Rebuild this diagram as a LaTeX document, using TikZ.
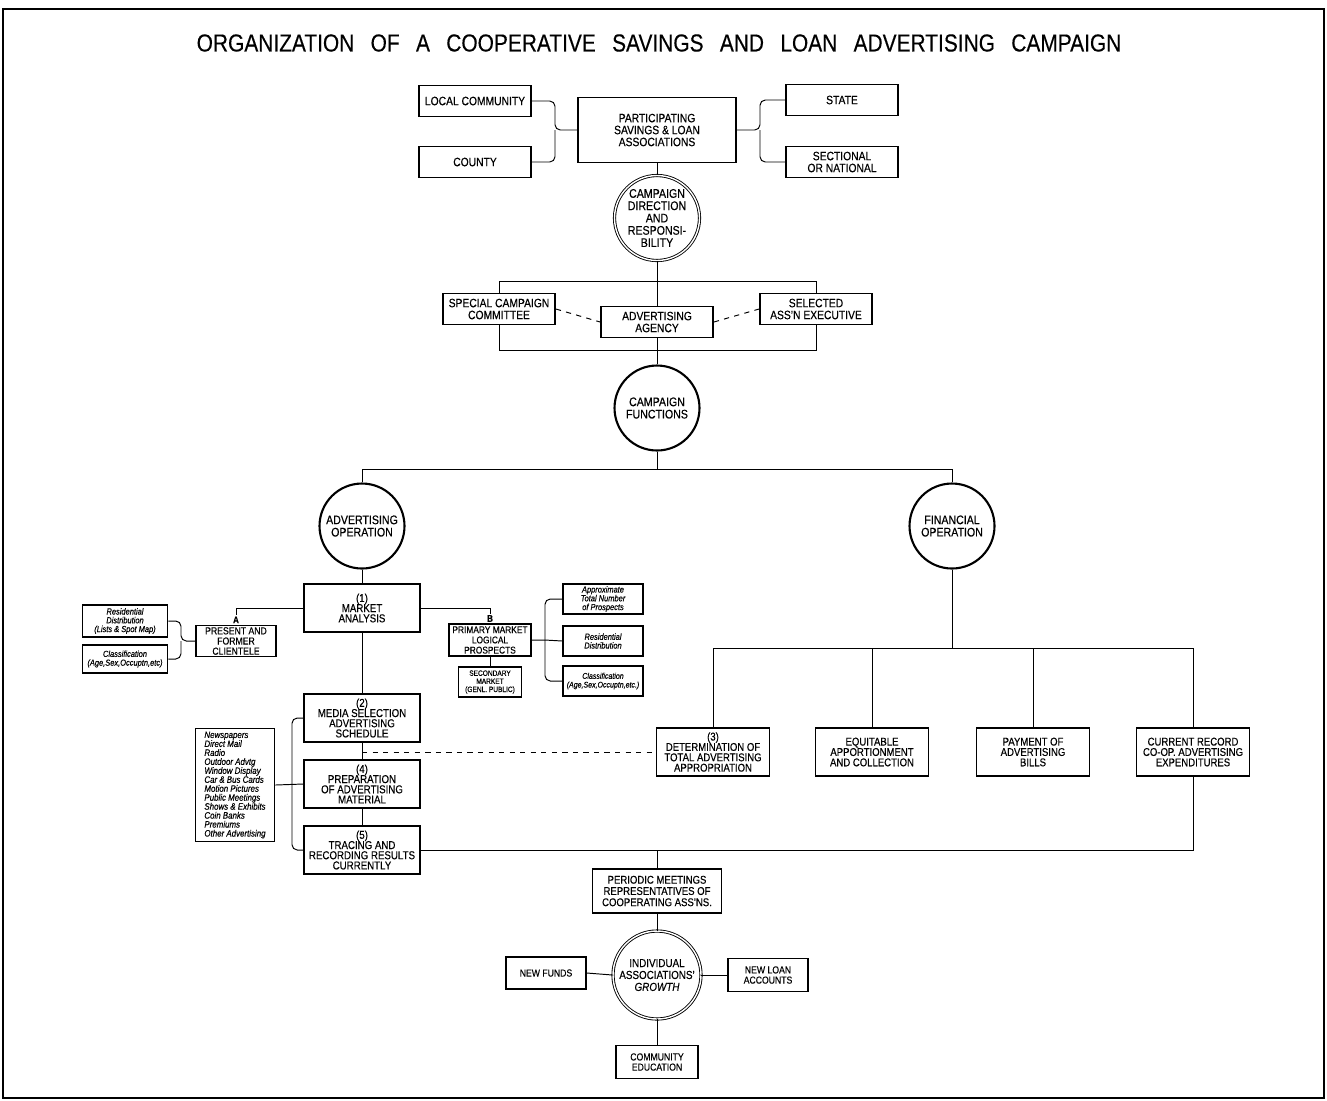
\documentclass[tikz,border=0pt]{standalone}
\usepackage{fontspec}
\setmainfont{Liberation Sans}[FakeStretch=0.85,FakeBold=0.3]
\usetikzlibrary{backgrounds,positioning}
\lineskiplimit=-\maxdimen

\begin{document}
\begin{tikzpicture}[x=0.02cm,y=-0.02cm,line width=0.55pt,
        box/.style={draw,line width=1pt,fill=white,align=center,inner sep=1pt,
            font=\fontsize{6.9}{6.8}\selectfont,minimum width=2.24cm,minimum height=0.62cm},
        bigbox/.style={box,minimum width=2.32cm,minimum height=0.96cm,font=\fontsize{6.5}{5.8}\selectfont},
        finbox/.style={box,minimum width=2.26cm,minimum height=0.96cm,font=\fontsize{6.4}{5.9}\selectfont},
        small/.style={box,minimum width=1.6cm,minimum height=0.6cm,font=\fontsize{5.8}{5.8}\selectfont},
        note/.style={box,minimum width=1.6cm,minimum height=0.6cm,font=\itshape\fontsize{5}{5}\selectfont},
        circ/.style={draw,circle,line width=1.2pt,fill=white,align=center,inner sep=-3pt,
            minimum size=1.7cm,font=\fontsize{7.1}{7}\selectfont},
        dcirc/.style={circ,double,double distance=0.8pt,line width=0.5pt},
        tag/.style={inner sep=0.5pt,font=\bfseries\fontsize{5.5}{5.5}\selectfont},
        brace/.style={rounded corners=3pt}]

    \useasboundingbox (0,0) rectangle (1327,1100);
    \draw[line width=0.8pt] (3,9) rectangle (1324,1098);

    \node[font=\fontsize{14}{16}\selectfont] (title) at (659,43)
        {\spaceskip=9.3pt\relax ORGANIZATION OF A COOPERATIVE SAVINGS AND LOAN ADVERTISING CAMPAIGN};

    % participants and direction
    \node[box] (lc) at (475,101) {LOCAL COMMUNITY};
    \node[box] (cty) at (475,162) {COUNTY};
    \node[box,minimum width=3.16cm,minimum height=1.3cm] (part) at (657,130)
        {PARTICIPATING\\SAVINGS \& LOAN\\ASSOCIATIONS};
    \node[box] (st) at (842,100) {STATE};
    \node[box] (sec) at (842,162) {SECTIONAL\\OR NATIONAL};
    \node[dcirc] (cd) at (657,218) {CAMPAIGN\\DIRECTION\\AND\\RESPONSI-\\BILITY};

    \node[box] (scc) at (499,309) {SPECIAL CAMPAIGN\\COMMITTEE};
    \node[box] (agy) at (657,322) {ADVERTISING\\AGENCY};
    \node[box] (sae) at (816,309) {SELECTED\\ASS'N EXECUTIVE};
    \coordinate (rt) at (657,281);
    \coordinate (rb) at (657,350);

    \node[circ] (cf) at (657,408) {CAMPAIGN\\FUNCTIONS};
    \coordinate (split) at (657,469);
    \node[circ] (ao) at (362,526) {ADVERTISING\\OPERATION};
    \node[circ] (fo) at (952,526) {FINANCIAL\\OPERATION};

    % advertising side
    \node[bigbox] (ma) at (362,608) {(1)\\MARKET\\ANALYSIS};
    \node[small] (pfc) at (236,641) {PRESENT AND\\FORMER\\CLIENTELE};
    \node[tag,above=0pt of pfc.north] (ta) {A};
    \node[note,minimum width=1.7cm,minimum height=0.64cm] (rd) at (125,621)
        {Residential\\Distribution\\(Lists \& Spot Map)};
    \node[note,minimum width=1.7cm,minimum height=0.56cm] (cl) at (125,659)
        {Classification\\(Age,Sex,Occuptn,etc)};
    \coordinate (jl) at (181,641);

    \node[small,minimum width=1.64cm,minimum height=0.64cm,font=\fontsize{5.6}{5.8}\selectfont] (pm) at (490,640)
        {PRIMARY MARKET\\LOGICAL\\PROSPECTS};
    \node[tag,above=0pt of pm.north] (tb) {B};
    \node[small,minimum width=1.26cm,font=\fontsize{4.4}{4.6}\selectfont] (sm) at (490,682)
        {SECONDARY\\MARKET\\(GENL. PUBLIC)};
    \node[note] (apx) at (603,599) {Approximate\\Total Number\\of Prospects};
    \node[note] (rd2) at (603,641) {Residential\\Distribution};
    \node[note,font=\itshape\fontsize{4.7}{5}\selectfont] (cl2) at (603,681) {Classification\\(Age,Sex,Occuptn,etc.)};
    \coordinate (jr) at (545,640);

    \node[bigbox] (med) at (362,718) {(2)\\MEDIA SELECTION\\ADVERTISING\\SCHEDULE};
    \node[bigbox] (prep) at (362,784) {(4)\\PREPARATION\\OF ADVERTISING\\MATERIAL};
    \node[bigbox] (trc) at (362,850) {(5)\\TRACING AND\\RECORDING RESULTS\\CURRENTLY};
    \node[note,minimum width=1.58cm,minimum height=2.26cm,align=left,
          font=\itshape\fontsize{5.3}{5.1}\selectfont] (lst) at (235,785)
        {Newspapers\\Direct Mail\\Radio\\Outdoor Advtg\\Window Display\\Car \& Bus Cards\\
         Motion Pictures\\Public Meetings\\Shows \& Exhibits\\Coin Banks\\Premiums\\Other Advertising};
    \coordinate (jm) at (292,784);

    % financial side
    \coordinate (fs) at (952,648);
    \node[finbox] (det) at (713,752) {(3)\\DETERMINATION OF\\TOTAL ADVERTISING\\APPROPRIATION};
    \node[finbox] (eq) at (872,752) {EQUITABLE\\APPORTIONMENT\\AND COLLECTION};
    \node[finbox] (pay) at (1033,752) {PAYMENT OF\\ADVERTISING\\BILLS};
    \node[finbox] (cur) at (1193,752) {CURRENT RECORD\\CO-OP. ADVERTISING\\EXPENDITURES};

    % results
    \node[box,minimum width=2.58cm,minimum height=0.88cm,font=\fontsize{6.4}{6.4}\selectfont] (per) at (657,891)
        {PERIODIC MEETINGS\\REPRESENTATIVES OF\\COOPERATING ASS'NS.};
    \node[dcirc,minimum size=1.76cm,font=\fontsize{6.6}{6.8}\selectfont] (iag) at (657,975)
        {INDIVIDUAL\\ASSOCIATIONS'\\\textit{GROWTH}};
    \node[small,minimum height=0.64cm] (nf) at (546,973) {NEW FUNDS};
    \node[small,minimum height=0.66cm] (nla) at (768,975) {NEW LOAN\\ACCOUNTS};
    \node[small,minimum width=1.64cm,minimum height=0.66cm] (ce) at (657,1062) {COMMUNITY\\EDUCATION};

    \begin{scope}[on background layer]
        \draw (scc.center |- rt) rectangle (sae.center |- rb);
    \end{scope}

    \coordinate (jp) at (555,130);
    \coordinate (js) at (760,130);
    \draw[brace] (lc.east) -| (jp) -- (part.west);
    \draw[brace] (cty.east) -| (jp);
    \draw[brace] (st.west) -| (js) -- (part.east);
    \draw[brace] (sec.west) -| (js);
    \draw (part.south) -- (cd.north);
    \draw (cd.south) -- (agy.north);
    \draw (agy.south) -- (cf.north);
    \draw[dashed] (scc.east) -- (agy.west);
    \draw[dashed] (agy.east) -- (sae.west);

    \draw (cf.south) -- (split);
    \draw (ao.north) |- (split) -| (fo.north);
    \draw (ao.south) -- (ma.north);
    \draw (ma.west) -| (ta.north);
    \draw (ma.east) -| (tb.north);
    \draw[brace] (rd.east) -| (jl) -- (pfc.west);
    \draw[brace] (cl.east) -| (jl);
    \draw (pm.south) -- (sm.north);
    \draw (pm.east) -- (jr) -- (rd2.west);
    \draw[brace] (jr) |- (apx.west);
    \draw[brace] (jr) |- (cl2.west);

    \draw (ma.south) -- (med.north);
    \draw (med.south) -- (prep.north);
    \draw (prep.south) -- (trc.north);
    \draw (lst.east) -- (prep.west);
    \draw[brace] (med.west) -| (jm) |- (trc.west);
    \draw[dashed] (med.south |- det.west) -- (det.west);

    \draw (fo.south) -- (fs);
    \draw (det.north) |- (fs) -| (cur.north);
    \draw (eq.north) -- (eq.north |- fs);
    \draw (pay.north) -- (pay.north |- fs);

    \draw (trc.east) -| (cur.south);
    \draw (per.north) -- (per.north |- trc.east);
    \draw (per.south) -- (iag.north);
    \draw (iag.west) -- (nf.east);
    \draw (iag.east) -- (nla.west);
    \draw (iag.south) -- (ce.north);
\end{tikzpicture}
\end{document}
